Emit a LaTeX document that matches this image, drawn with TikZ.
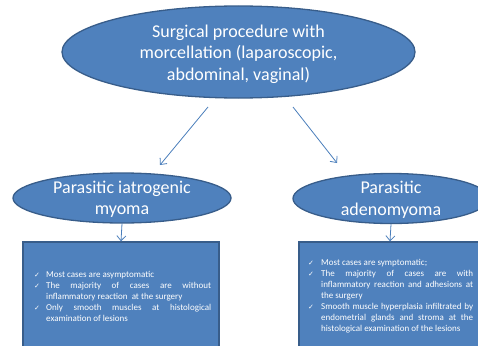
\documentclass[tikz,border=0pt]{standalone}
\usepackage{fontspec}
\setmainfont{Carlito}
\newfontfamily\symfont{DejaVu Sans}
\usetikzlibrary{shapes.geometric,arrows.meta}
\definecolor{fillblue}{HTML}{4F81BD}
\definecolor{edgeblue}{HTML}{385D8A}
\definecolor{arrowblue}{HTML}{4A7EBB}
\newcommand\ckitem[1]{\par\noindent\hangindent=#1\hangafter=1\makebox[#1][l]{\raisebox{0.3pt}{\symfont\fontsize{7}{7}\selectfont ✓}}}
\begin{document}
\begin{tikzpicture}[x=1pt,y=-1pt,
  ell/.style={ellipse, draw=edgeblue, fill=fillblue, line width=1.3pt, inner sep=0pt},
  rbox/.style={rectangle, draw=edgeblue, fill=fillblue, line width=1.3pt, inner sep=0pt},
  etext/.style={text=white, align=center, font=\fontsize{18}{21.5}\selectfont, inner sep=0pt},
  btext/.style={text=white, align=justify, font=\fontsize{9}{11}\selectfont, inner sep=0pt, anchor=north west},
  conn/.style={draw=arrowblue, line width=0.8pt, -{Straight Barb[length=5pt,width=9pt]}}]
\useasboundingbox (0,0) rectangle (478,345);
\clip (0,0) rectangle (478,345);
% top ellipse
\node[ell, minimum width=353pt, minimum height=92pt] (top) at (238.5,52) {};
\node[etext] (toptext) at ([yshift=-2pt]top.center) {Surgical procedure with\\morcellation (laparoscopic,\\abdominal, vaginal)};
% second-level ellipses
\node[ell, minimum width=218pt, minimum height=50pt] (left) at (122,198) {};
\node[etext] (lefttext) at ([yshift=-1pt]left.center) {Parasitic iatrogenic\\myoma};
\node[ell, minimum width=196pt, minimum height=50pt] (right) at (391,198.5) {};
\node[etext] (righttext) at ([yshift=-1pt]right.center) {Parasitic\\adenomyoma};
% boxes
\node[rbox, minimum width=196pt, minimum height=130pt] (lbox) at (121,307) {};
\node[rbox, minimum width=182pt, minimum height=130pt] (rbox) at (390,307) {};
% box texts
\node[btext, text width=177pt] (ltext) at (34,266.5) {\ckitem{12pt}Most cases are asymptomatic
\ckitem{12pt}The majority of cases are without\linebreak inflammatory reaction\ \ at the surgery
\ckitem{12pt}Only smooth muscles at histological\linebreak examination of lesions\par};
\node[btext, text width=165pt] (rtext) at (308,254.5) {\ckitem{13pt}Most cases are symptomatic;
\ckitem{13pt}The majority of cases are with\linebreak inflammatory reaction and adhesions at\linebreak the surgery
\ckitem{13pt}Smooth muscle hyperplasia infiltrated by\linebreak endometrial glands and stroma at the\linebreak histological examination of the lesions\par};
% connectors
\coordinate (a1s) at (208,107);
\coordinate (a1e) at (160,165);
\coordinate (a2s) at (293,107);
\coordinate (a2e) at (337,163);
\draw[conn] (a1s) -- (a1e);
\draw[conn] (a2s) -- (a2e);
\draw[conn] (left.south) -- (lbox.north);
\draw[conn] (right.south) -- (rbox.north);
\end{tikzpicture}
\end{document}
